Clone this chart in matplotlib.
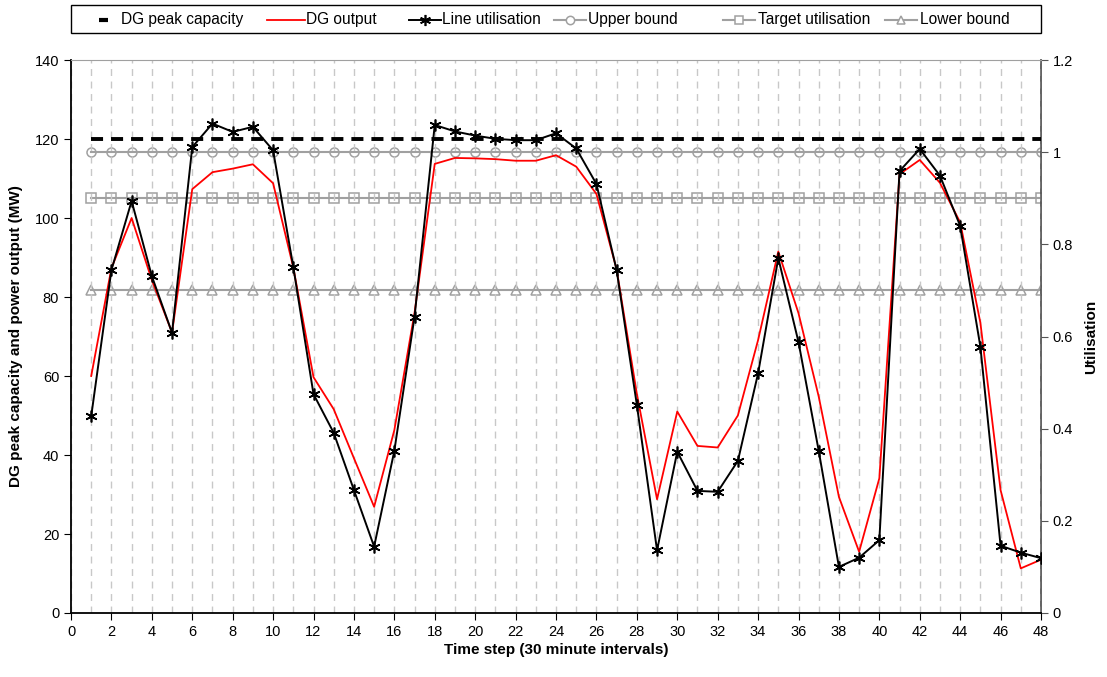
import matplotlib
matplotlib.use("Agg")
import matplotlib.pyplot as plt
from matplotlib.ticker import MultipleLocator, FixedLocator
from matplotlib.lines import Line2D
from matplotlib.patches import Rectangle

plt.rcParams['font.family'] = ['Liberation Sans', 'DejaVu Sans']

time_steps = list(range(1, 49))

dg_output = [60, 87.3, 100, 84.3, 71, 107.3, 111.6, 112.5, 113.6, 108.8,
             87.5, 59.7, 51.6, 39.2, 26.9, 46.3, 76, 113.7, 115.2, 115.1,
             114.9, 114.5, 114.5, 115.9, 113.0, 106.1, 87, 55.5, 28.8, 51.0,
             42.3, 41.9, 50.0, 69.1, 91.5, 75.9, 54.8, 29.4, 15.5, 34.1,
             111.1, 114.7, 108.9, 98.9, 73.5, 31.1, 11.3, 13.5]

line_util = [0.427, 0.744, 0.894, 0.731, 0.608, 1.011, 1.062, 1.044, 1.055, 1.004,
             0.751, 0.475, 0.391, 0.267, 0.144, 0.352, 0.643, 1.059, 1.045, 1.036,
             1.029, 1.026, 1.026, 1.041, 1.008, 0.931, 0.744, 0.452, 0.136, 0.350,
             0.265, 0.263, 0.330, 0.520, 0.770, 0.588, 0.352, 0.100, 0.120, 0.158,
             0.959, 1.007, 0.949, 0.840, 0.578, 0.146, 0.131, 0.119]

dg_peak_capacity = [120] * 48
upper_bound = [1.0] * 48
target_util = [0.9] * 48
lower_bound = [0.7] * 48

legend_labels = ['DG peak capacity', 'DG output', 'Line utilisation', 'Upper bound',
                 'Target utilisation', 'Lower bound']

W, H = 1107, 677
fig = plt.figure(figsize=(W / 100, H / 100), dpi=100)
ax = fig.add_axes([71 / W, 1 - 613 / H, 970 / W, 553 / H])
ax2 = ax.twinx()

grey = '#a0a0a0'
mk = dict(ms=6.5, mfc='none', mec=grey, mew=1.1)
ax2.plot(time_steps, upper_bound, color=grey, lw=1.5, marker='o', zorder=2, **mk)
ax2.plot(time_steps, target_util, color=grey, lw=1.5, marker='s', zorder=2, **mk)
ax2.plot(time_steps, lower_bound, color=grey, lw=1.5, marker='^', zorder=2, **mk)

ax.set_zorder(ax2.get_zorder() + 1)
ax.patch.set_visible(False)

ax.plot(time_steps, dg_peak_capacity, color='black', lw=2.8, dashes=(3.1, 2.05),
        dash_capstyle='butt', zorder=3)
ax.plot(time_steps, dg_output, color='#ff0000', lw=1.3, zorder=4)
# line utilisation is on the right (utilisation) scale; convert to left-axis units
scale = 140 / 1.2
ax.plot(time_steps, [u * scale for u in line_util], color='black', lw=1.4,
        marker=(6, 2, 0), ms=8.5, mew=1.2, zorder=5)

ax.set_xlim(0, 48)
ax.set_ylim(0, 140)
ax2.set_ylim(0, 1.2)

ax.xaxis.set_major_locator(MultipleLocator(2))
ax.xaxis.set_minor_locator(MultipleLocator(1))
ax.yaxis.set_major_locator(MultipleLocator(20))
ax2.yaxis.set_major_locator(FixedLocator([0, 0.2, 0.4, 0.6, 0.8, 1.0, 1.2]))
ax2.set_yticklabels(['0', '0.2', '0.4', '0.6', '0.8', '1', '1.2'])

ax.grid(True, axis='x', which='both', color='#c8c8c8', ls=(0, (5, 4)), lw=1)
ax.tick_params(axis='x', which='minor', length=0)
ax.tick_params(axis='both', which='major', direction='out', length=5, labelsize=10.5)
ax2.tick_params(axis='y', direction='out', length=5, labelsize=10.5, color='#555555')

for sp in ['left', 'bottom']:
    ax.spines[sp].set_color('black')
    ax.spines[sp].set_linewidth(1.3)
ax.spines['top'].set_color('#a0a0a0')
ax.spines['right'].set_visible(False)
ax2.spines['top'].set_visible(False)
ax2.spines['left'].set_visible(False)
ax2.spines['bottom'].set_visible(False)
ax2.spines['right'].set_color('#555555')
ax2.spines['right'].set_linewidth(1.3)

ax.set_xlabel('Time step (30 minute intervals)', fontsize=11, fontweight='bold', labelpad=3)
ax.set_ylabel('DG peak capacity and power output (MW)', fontsize=11, fontweight='bold', labelpad=8)
ax2.set_ylabel('Utilisation', fontsize=11, fontweight='bold', labelpad=8)

# manual legend (Excel-style), positions in pixels
def fx(px):
    return px / W

def fy(py):
    return 1 - py / H

fig.patches.append(Rectangle((fx(71), fy(33)), 970 / W, 28 / H, transform=fig.transFigure,
                             fill=False, edgecolor='black', lw=1.0))
ly = fy(19.5)
handles_px = [(99, 108), (267, 305), (409, 441), (554, 586), (723, 755), (885, 917)]
text_px = [121, 306, 442, 588, 758, 920]
styles = [
    dict(color='black', lw=3.0, solid_capstyle='butt'),
    dict(color='#ff0000', lw=1.3),
    dict(color='black', lw=1.4),
    dict(color=grey, lw=1.5),
    dict(color=grey, lw=1.5),
    dict(color=grey, lw=1.5),
]
markers = [None, None, (6, 2, 0), 'o', 's', '^']
for (x0, x1), tx, st, m, lab in zip(handles_px, text_px, styles, markers, legend_labels):
    fig.add_artist(Line2D([fx(x0), fx(x1)], [ly, ly], transform=fig.transFigure, **st))
    if m is not None:
        xm = (x0 + x1) / 2
        if m == (6, 2, 0):
            fig.add_artist(Line2D([fx(xm)], [ly], transform=fig.transFigure, marker=m,
                                  ms=8, mew=1.2, color='black', ls='none'))
        else:
            fig.add_artist(Line2D([fx(xm)], [ly], transform=fig.transFigure, marker=m,
                                  ls='none', ms=6, mfc='white', mec=grey, mew=1.1))
    fig.text(fx(tx), ly, lab, fontsize=11.2, va='center', ha='left')

fig.savefig('out.png', dpi=100)
